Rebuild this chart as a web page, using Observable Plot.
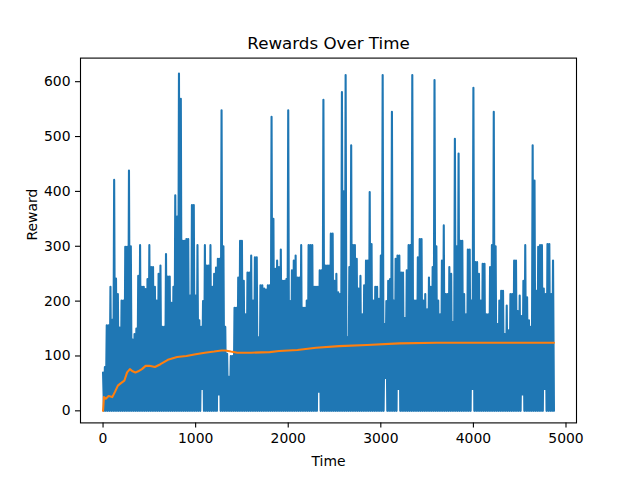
<!DOCTYPE html>
<html><head><meta charset="utf-8">
<script src="https://cdn.jsdelivr.net/npm/d3@7"></script>
<script src="https://cdn.jsdelivr.net/npm/@observablehq/plot@0.6"></script>
<style>body{margin:0;background:#fff}</style>
</head><body><div id="chart"></div>
<script>
// Reward series: envelope peaks read every 20 time steps (t = 0 … 4860)
const rewardStart = 0;
const rewardStep = 20;
const rewardPeaks = [
  70, 80, 156, 156, 226, 166, 421, 241, 213, 152,
  201, 201, 299, 299, 438, 300, 130, 140, 150, 246,
  302, 226, 226, 222, 240, 302, 262, 262, 226, 201,
  250, 265, 153, 153, 286, 245, 245, 197, 226, 393,
  354, 615, 569, 310, 310, 313, 313, 210, 375, 375,
  210, 302, 165, 153, 200, 302, 265, 265, 302, 226,
  250, 261, 277, 277, 548, 300, 153, 104, 62, 100,
  100, 188, 188, 243, 310, 310, 237, 176, 252, 252,
  283, 201, 280, 280, 134, 229, 229, 223, 221, 229,
  229, 536, 350, 259, 274, 262, 294, 237, 237, 240,
  548, 200, 256, 274, 283, 243, 243, 302, 188, 188,
  201, 302, 302, 302, 226, 226, 226, 256, 256, 567,
  265, 265, 265, 323, 323, 237, 250, 216, 213, 581,
  400, 612, 134, 262, 484, 302, 302, 277, 223, 246,
  176, 229, 274, 274, 399, 304, 201, 226, 226, 204,
  283, 612, 158, 200, 237, 240, 545, 201, 277, 283,
  283, 252, 252, 169, 256, 302, 302, 612, 201, 201,
  280, 313, 313, 201, 213, 185, 243, 226, 262, 603,
  300, 201, 176, 274, 338, 213, 213, 262, 250, 162,
  496, 300, 469, 310, 310, 213, 176, 294, 294, 201,
  589, 271, 271, 250, 201, 268, 268, 176, 176, 262,
  302, 545, 300, 158, 201, 219, 219, 140, 192, 147,
  213, 213, 274, 274, 182, 210, 173, 237, 302, 207,
  165, 153, 484, 420, 219, 299, 302, 302, 223, 213,
  304, 304, 213, 274
];
// Places where the series does not fall back to zero
const gapTimes = [1060, 1240, 2320, 3040, 3180, 3980, 4520, 4760];
const gapLows  = [40, 30, 35, 60, 40, 40, 30, 40];

// Running average (orange)
const avgTimes  = [0, 10, 30, 60, 100, 130, 160, 190, 230, 260, 290, 320, 350, 380, 420, 460, 500, 560, 620, 700, 800, 900, 1000, 1100, 1200, 1280, 1320, 1380, 1450, 1600, 1800, 1900, 2100, 2300, 2550, 2850, 3200, 3600, 3900, 4300, 4870];
const avgValues = [0, 25, 22, 27, 25, 35, 46, 50, 55, 70, 76, 72, 70, 72, 76, 82, 82, 80, 85, 93, 98, 100, 103, 106, 108, 110, 110, 108, 106, 106, 107, 109, 111, 115, 118, 120, 123, 124, 124, 124, 124];

const xTicks = [0, 1000, 2000, 3000, 4000, 5000];
const yTicks = [0, 100, 200, 300, 400, 500, 600];
const titleText = "Rewards Over Time";
const xLabel = "Time";
const yLabel = "Reward";

const rewardSeries = [];
rewardPeaks.forEach((v, i) => {
  const t = rewardStart + i * rewardStep;
  rewardSeries.push({t, r: v});
  const gi = gapTimes.indexOf(t);
  rewardSeries.push({t: t + rewardStep / 2, r: gi >= 0 ? gapLows[gi] : 0});
});
const avgSeries = avgTimes.map((t, i) => ({t, v: avgValues[i]}));

const chart = Plot.plot({
  width: 640, height: 480,
  marginLeft: 80, marginRight: 64, marginTop: 57.6, marginBottom: 57.6,
  style: {fontFamily: "DejaVu Sans", fontSize: "13.9px", background: "white", color: "black", overflow: "visible"},
  x: {domain: [-243.5, 5113.5]},
  y: {domain: [-22, 643]},
  marks: [
    Plot.line(rewardSeries, {x: "t", y: "r", stroke: "#1f77b4", strokeWidth: 2.1, curve: "linear"}),
    Plot.line(avgSeries, {x: "t", y: "v", stroke: "#ff7f0e", strokeWidth: 2.08}),
    Plot.frame({stroke: "black", strokeWidth: 1.1}),
    Plot.axisX({ticks: xTicks, tickSize: 5, tickPadding: 5, label: null, tickFormat: d => String(d), strokeWidth: 1.1}),
    Plot.axisY({ticks: yTicks, tickSize: 5, tickPadding: 5, label: null, tickFormat: d => String(d), strokeWidth: 1.1}),
    Plot.text([titleText], {frameAnchor: "top", lineAnchor: "bottom", dy: -9, fontSize: 16.7}),
    Plot.text([xLabel], {frameAnchor: "bottom", lineAnchor: "top", dy: 33}),
    Plot.text([yLabel], {frameAnchor: "left", rotate: -90, dx: -48})
  ]
});
document.getElementById("chart").appendChild(chart);
</script>
</body></html>
